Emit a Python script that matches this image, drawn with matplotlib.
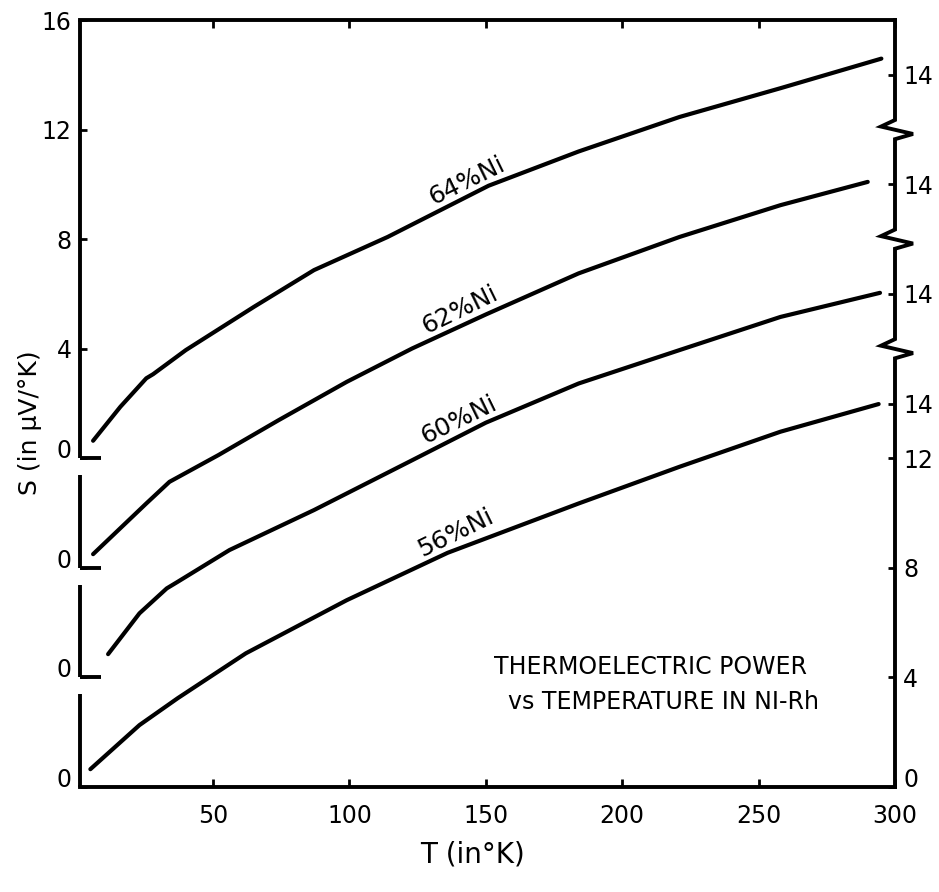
import numpy as np
import matplotlib
matplotlib.use("Agg")
import matplotlib.pyplot as plt
from matplotlib.transforms import blended_transform_factory

# ---------------- data ----------------
T56 = [5, 23, 37, 62, 99, 136, 148, 184, 221, 258, 294]
S56 = [0.65, 2.26, 3.24, 4.88, 6.82, 8.55, 9.0, 10.35, 11.69, 12.97, 13.98]

T60 = [11.5, 23, 33, 37, 56, 87, 123, 150, 184, 221, 258, 294.5]
S60 = [0.85, 2.34, 3.25, 3.49, 4.65, 6.11, 7.93, 9.3, 10.73, 11.95, 13.16, 14.04]

T62 = [6, 25.5, 34, 52, 74, 99, 123, 150, 184, 221, 258, 290]
S62 = [0.5, 2.35, 3.14, 4.12, 5.39, 6.79, 8.01, 9.25, 10.75, 12.08, 13.24, 14.09]

T64 = [6, 16, 25.5, 28, 40, 65, 87, 114, 151, 184, 221, 258, 295]
S64 = [0.64, 1.88, 2.92, 3.07, 3.95, 5.53, 6.87, 8.08, 9.95, 11.2, 12.46, 13.51, 14.59]

curve_labels = ["56%Ni", "60%Ni", "62%Ni", "64%Ni"]
offsets = [0, 4, 8, 12]          # vertical offset of each curve's zero

x_ticks = [50, 100, 150, 200, 250, 300]
left_tick_pos = [0, 4, 8, 12, 16, 20, 24, 28]
left_tick_lab = ["0", "0", "0", "0", "4", "8", "12", "16"]
right_tick_pos = [0, 4, 8, 12, 14, 18, 22, 26]
right_tick_lab = ["0", "4", "8", "12", "14", "14", "14", "14"]

# ---------------- figure ----------------
plt.rcParams['font.family'] = ['DejaVu Sans']
W, H = 939, 892
fig = plt.figure(figsize=(W / 100, H / 100), dpi=100)
L, R, B, TOP = 80, 895, 787, 20
ax = fig.add_axes([L / W, 1 - B / H, (R - L) / W, (B - TOP) / H])
ax.set_xlim(1.2, 300)
ax.set_ylim(0, 28)

lw_ax = 2.8
for s in ["left", "right"]:
    ax.spines[s].set_visible(False)
for s in ["top", "bottom"]:
    ax.spines[s].set_linewidth(lw_ax)

# curves
Ts = [T56, T60, T62, T64]
Ss = [S56, S60, S62, S64]
for T, S, off in zip(Ts, Ss, offsets):
    ax.plot(T, np.array(S) + off, color="black", lw=3.0, solid_capstyle="round")

# curve labels
label_T = [139, 140, 140.5, 143]
for T, S, off, lab, lt in zip(Ts, Ss, offsets, curve_labels, label_T):
    yc = np.interp(lt, T, S) + off + 0.6
    ax.text(lt, yc, lab, rotation=26, rotation_mode="anchor",
            ha="center", va="center", fontsize=18)

# left broken axis with feet
bt = blended_transform_factory(ax.transAxes, ax.transData)
axw = R - L
gap = 0.62
foot = 21 / axw
tops = offsets[1:] + [28]
for i, off in enumerate(offsets):
    upper = tops[i] if i == len(offsets) - 1 else tops[i] - gap
    ax.plot([0, 0], [off, upper], color="black", lw=lw_ax, transform=bt,
            clip_on=False, solid_capstyle="butt")
    if off > 0:
        ax.plot([0, foot], [off, off], color="black", lw=lw_ax, transform=bt,
                clip_on=False, solid_capstyle="butt")

# right axis with zig-zag breaks (upper point goes left, lower point goes right)
breaks = [o + 12 for o in offsets[1:]]
zz_x = [1, 1 + 18 / axw, 1 - 14 / axw, 1]      # bottom -> top
zz_dy = [-0.35, -0.16, 0.11, 0.35]
pts_x, pts_y = [1], [0]
for c in breaks:
    pts_x += zz_x
    pts_y += [c + d for d in zz_dy]
pts_x += [1]
pts_y += [28]
ax.plot(pts_x, pts_y, color="black", lw=lw_ax, transform=bt, clip_on=False,
        solid_joinstyle="miter")

# ticks
fs = 17
ax.set_xticks(x_ticks)
ax.set_xticklabels([str(v) for v in x_ticks], fontsize=fs)
ax.tick_params(axis="x", direction="in", length=6, width=2, pad=12, top=True)
ax.set_yticks(left_tick_pos)
ax.set_yticklabels(left_tick_lab, fontsize=fs)
ax.tick_params(axis="y", direction="in", length=5, width=2, pad=6)
for t in ax.get_yticklabels():
    if t.get_text() == "0":
        t.set_va("baseline")

ax2 = ax.twinx()
ax2.set_ylim(0, 28)
for s in ax2.spines.values():
    s.set_visible(False)
ax2.set_yticks(right_tick_pos)
ax2.set_yticklabels(right_tick_lab, fontsize=fs)
ax2.tick_params(axis="y", direction="in", length=5, width=2, pad=6)
for t in ax2.get_yticklabels():
    if t.get_text() == "0":
        t.set_va("baseline")

# axis titles
fig.text(30 / W, 1 - 423 / H, "S (in μV/°K)", rotation=90, ha="center",
         va="center", fontsize=18)
fig.text(473 / W, 1 - 855 / H, "T (in°K)", ha="center", va="center",
         fontsize=20)

# annotation
fig.text(651 / W, 1 - 667 / H, "THERMOELECTRIC POWER", ha="center",
         va="center", fontsize=17)
fig.text(664 / W, 1 - 702 / H, "vs TEMPERATURE IN NI-Rh", ha="center",
         va="center", fontsize=17)

fig.savefig("out.png", dpi=100)
